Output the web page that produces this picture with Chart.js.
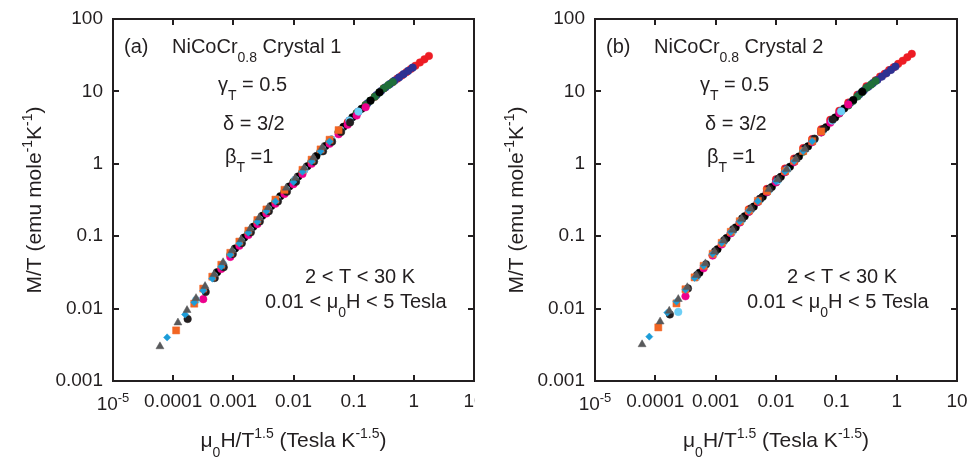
<!DOCTYPE html>
<html>
<head>
<meta charset="utf-8">
<script src="https://cdn.jsdelivr.net/npm/chart.js@4.4.1/dist/chart.umd.min.js"></script>
<style>
html, body { margin: 0; padding: 0; background: #fff; }
#wrap { position: relative; width: 970px; height: 459px; overflow: hidden; }
#pa { position: absolute; left: 0; top: 0; width: 485px; height: 459px; }
#pb { position: absolute; left: 475px; top: 0; width: 495px; height: 459px; background: #fff; }
</style>
</head>
<body>
<div id="wrap">
  <div id="pa"><canvas id="ca"></canvas></div>
  <div id="pb"><canvas id="cb"></canvas></div>
</div>
<script>
// mu0H/T^1.5 (x) and M/T for crystal 1 (a..) and crystal 2 (b..), one set per isotherm
const x2 = [0.00355, 0.00708, 0.0100, 0.0141, 0.0200, 0.0282, 0.0398, 0.0562, 0.0794, 0.112, 0.158, 0.224, 0.316, 0.447, 0.531, 0.631, 0.750, 0.891, 1.06, 1.26, 1.50, 1.78];
const a2 = [0.221, 0.412, 0.562, 0.778, 1.08, 1.49, 2.03, 2.75, 3.73, 4.99, 6.49, 8.43, 11.0, 13.5, 15.0, 16.6, 18.4, 20.4, 22.6, 25.1, 27.7, 30.9];
const b2 = [0.235, 0.45, 0.61, 0.86, 1.18, 1.65, 2.2, 3.0, 4.05, 5.4, 7.0, 9.0, 11.8, 14.2, 16.0, 17.5, 19.7, 21.5, 24.0, 26.5, 29.6, 33.0];

const x3 = [0.00191, 0.0038, 0.00537, 0.00759, 0.0107, 0.0151, 0.0214, 0.0302, 0.0427, 0.0603, 0.0851, 0.120, 0.170, 0.240, 0.285, 0.339, 0.403, 0.479, 0.569, 0.676, 0.804, 0.955];
const a3 = [0.120, 0.236, 0.321, 0.439, 0.600, 0.830, 1.15, 1.59, 2.16, 2.92, 3.96, 5.26, 6.84, 8.89, 10.1, 11.4, 12.7, 14.1, 15.6, 17.3, 19.2, 21.3];
const b3 = [0.118, 0.232, 0.326, 0.445, 0.61, 0.845, 1.17, 1.62, 2.2, 2.98, 4.02, 5.35, 6.95, 9.05, 10.3, 11.6, 13.0, 14.4, 16.0, 17.8, 19.8, 22.0];

const x5 = [0.000891, 0.00178, 0.00251, 0.00355, 0.00501, 0.00708, 0.0100, 0.0141, 0.0200, 0.0282, 0.0398, 0.0562, 0.112, 0.158, 0.188, 0.224, 0.266, 0.316, 0.376, 0.447];
const a5 = [0.0556, 0.112, 0.158, 0.221, 0.302, 0.412, 0.562, 0.778, 1.08, 1.49, 2.03, 2.75, 4.99, 6.49, 7.40, 8.43, 9.62, 11.0, 12.2, 13.5];
const b5 = [0.055, 0.110, 0.156, 0.218, 0.298, 0.405, 0.555, 0.770, 1.07, 1.47, 2.01, 2.72, 4.95, 6.40, 7.35, 8.50, 9.70, 11.2, 12.4, 13.9];

const x7 = [0.000537, 0.00107, 0.00151, 0.00214, 0.00302, 0.00427, 0.00603, 0.00851, 0.0120, 0.0170, 0.0240, 0.0339, 0.0676, 0.0955, 0.135, 0.191, 0.269];
const a7 = [0.0318, 0.0676, 0.0955, 0.135, 0.191, 0.261, 0.356, 0.486, 0.668, 0.925, 1.28, 1.76, 3.24, 4.39, 5.74, 7.46, 9.70];
const b7 = [0.0312, 0.066, 0.094, 0.132, 0.188, 0.256, 0.350, 0.478, 0.66, 0.910, 1.26, 1.74, 3.20, 4.35, 5.80, 7.60, 9.90];

const x10 = [0.000316, 0.000631, 0.000891, 0.00126, 0.00178, 0.00251, 0.00355, 0.00501, 0.00708, 0.0100, 0.0141, 0.0200, 0.0398, 0.0562, 0.0794, 0.112, 0.158];
const a10 = [0.0135, 0.0353, 0.0517, 0.0738, 0.104, 0.147, 0.206, 0.281, 0.383, 0.523, 0.724, 1.00, 1.89, 2.56, 3.47, 4.64, 6.04];
const b10 = [0.0148, 0.036, 0.054, 0.077, 0.110, 0.155, 0.218, 0.298, 0.408, 0.555, 0.77, 1.06, 2.00, 2.72, 3.70, 5.00, 6.60];

const x12 = [0.000240, 0.000479, 0.000676, 0.000955, 0.00135, 0.00191, 0.00269, 0.0038, 0.00537, 0.00759, 0.0107, 0.0151, 0.0302, 0.0427, 0.0603, 0.0851, 0.120];
const a12 = [0.0131, 0.0281, 0.0410, 0.0600, 0.0851, 0.120, 0.170, 0.236, 0.321, 0.439, 0.600, 0.830, 1.59, 2.16, 2.92, 3.96, 5.26];
const b12 = [0.0090, 0.027, 0.040, 0.058, 0.083, 0.117, 0.166, 0.232, 0.316, 0.432, 0.59, 0.820, 1.57, 2.14, 2.90, 3.95, 5.30];

const x15 = [0.000174, 0.000347, 0.000490, 0.000692, 0.000977, 0.00138, 0.00195, 0.00275, 0.00389, 0.00550, 0.00776, 0.0110, 0.0219, 0.0309, 0.0437, 0.0617, 0.0871];
const a15 = [0.0072, 0.0170, 0.0265, 0.0373, 0.0566, 0.0801, 0.113, 0.160, 0.221, 0.302, 0.412, 0.565, 1.08, 1.49, 2.02, 2.75, 3.73];
const b15 = [0.0083, 0.019, 0.029, 0.041, 0.062, 0.088, 0.125, 0.176, 0.243, 0.330, 0.452, 0.620, 1.18, 1.64, 2.22, 3.02, 4.10];

const x20 = [0.000112, 0.000224, 0.000316, 0.000447, 0.000631, 0.000891, 0.00126, 0.00178, 0.00251, 0.00355, 0.00501, 0.00708, 0.0141, 0.0200, 0.0282, 0.0398, 0.0562];
const a20 = [0.0050, 0.0117, 0.0189, 0.0276, 0.0403, 0.0589, 0.0842, 0.119, 0.167, 0.234, 0.320, 0.437, 0.825, 1.14, 1.58, 2.15, 2.92];
const b20 = [0.0055, 0.0118, 0.0185, 0.027, 0.039, 0.057, 0.081, 0.115, 0.161, 0.226, 0.308, 0.420, 0.790, 1.10, 1.50, 2.05, 2.80];

const x25 = [0.0000794, 0.000158, 0.000224, 0.000316, 0.000447, 0.000631, 0.000891, 0.00126, 0.00178, 0.00251, 0.00355, 0.00501, 0.0100, 0.0141, 0.0200, 0.0282, 0.0398];
const a25 = [0.0040, 0.0083, 0.0122, 0.0178, 0.0260, 0.0380, 0.0556, 0.0794, 0.112, 0.158, 0.221, 0.302, 0.562, 0.778, 1.08, 1.49, 2.03];
const b25 = [0.0041, 0.0088, 0.0125, 0.0182, 0.0265, 0.039, 0.057, 0.081, 0.114, 0.160, 0.224, 0.305, 0.570, 0.785, 1.09, 1.50, 2.05];

const x30 = [0.0000603, 0.000120, 0.000170, 0.000240, 0.000339, 0.000479, 0.000676, 0.000955, 0.00135, 0.00191, 0.00269, 0.0038, 0.00759, 0.0107, 0.0151, 0.0214, 0.0302];
const a30 = [0.0030, 0.0064, 0.0095, 0.0139, 0.0204, 0.0298, 0.0435, 0.0636, 0.0902, 0.127, 0.180, 0.250, 0.465, 0.636, 0.880, 1.22, 1.69];
const b30 = [0.0032, 0.0066, 0.0093, 0.0135, 0.0197, 0.029, 0.042, 0.061, 0.087, 0.122, 0.173, 0.240, 0.445, 0.610, 0.840, 1.16, 1.60];

// isotherms, first one is drawn on top
const temps = [30, 25, 20, 15, 12, 10, 7, 5, 3, 2];
const xSets = [x30, x25, x20, x15, x12, x10, x7, x5, x3, x2];
const aSets = [a30, a25, a20, a15, a12, a10, a7, a5, a3, a2];
const bSets = [b30, b25, b20, b15, b12, b10, b7, b5, b3, b2];
const colors = ['#58595b', '#1c9cd8', '#f26522', '#231f20', '#6dcff6', '#ec008c', '#000000', '#1f6e3a', '#2e3192', '#ed1c24'];
const shapes = ['triangle', 'rectRot', 'rect', 'circle', 'circle', 'circle', 'circle', 'circle', 'circle', 'circle'];
const sizes = [4.6, 3.6, 5, 3.8, 3.8, 3.8, 3.8, 3.8, 3.8, 3.8];

const xTicks = [1e-5, 1e-4, 1e-3, 1e-2, 1e-1, 1, 10];
const xTickLabels = ['', '0.0001', '0.001', '0.01', '0.1', '1', '10'];
const yTicks = [0.001, 0.01, 0.1, 1, 10, 100];
const yTickLabels = ['0.001', '0.01', '0.1', '1', '10', '100'];

const panels = ['(a)', '(b)'];
const crystals = [' Crystal 1', ' Crystal 2'];

const INK = '#231f20';
const FONT = '"Liberation Sans", Arial, sans-serif';

// draw text pieces: kind 0 normal, 1 subscript, 2 superscript
function drawRuns(ctx, parts, x, y, size, center) {
  const small = Math.round(size * 0.68);
  let w = 0;
  parts.forEach(p => {
    ctx.font = (p[1] ? small : size) + 'px ' + FONT;
    w += ctx.measureText(p[0]).width;
  });
  let cx = center ? x - w / 2 : x;
  parts.forEach(p => {
    ctx.font = (p[1] ? small : size) + 'px ' + FONT;
    const dy = p[1] === 1 ? size * 0.47 : (p[1] === 2 ? -size * 0.42 : 0);
    ctx.fillText(p[0], cx, y + dy);
    cx += ctx.measureText(p[0]).width;
  });
}

function framePlugin(idx) {
  return {
    id: 'frame' + idx,
    afterDraw(chart) {
      const ctx = chart.ctx;
      const a = chart.chartArea;
      const xs = chart.scales.x, ys = chart.scales.y;
      ctx.save();
      ctx.strokeStyle = INK;
      ctx.lineWidth = 2;
      ctx.strokeRect(a.left, a.top, a.right - a.left, a.bottom - a.top);
      ctx.beginPath();
      xTicks.forEach(v => {
        const px = Math.round(xs.getPixelForValue(v));
        ctx.moveTo(px, a.bottom); ctx.lineTo(px, a.bottom - 6);
        ctx.moveTo(px, a.top); ctx.lineTo(px, a.top + 6);
      });
      yTicks.forEach(v => {
        const py = Math.round(ys.getPixelForValue(v));
        ctx.moveTo(a.left, py); ctx.lineTo(a.left + 6, py);
        ctx.moveTo(a.right, py); ctx.lineTo(a.right - 6, py);
      });
      ctx.stroke();

      ctx.fillStyle = INK;
      ctx.textAlign = 'left';
      ctx.textBaseline = 'alphabetic';

      // first x tick label, 10^-5
      drawRuns(ctx, [['10', 0], ['-5', 2]], xs.getPixelForValue(xTicks[0]), a.bottom + 29, 19, true);

      // annotations
      const L = a.left, T = a.top;
      drawRuns(ctx, [[panels[idx], 0]], L + 11, T + 34, 20);
      drawRuns(ctx, [['NiCoCr', 0], ['0.8', 1], [crystals[idx], 0]], L + 59, T + 34, 20);
      drawRuns(ctx, [['\u03b3', 0], ['T', 1], [' = 0.5', 0]], L + 105, T + 72, 20);
      drawRuns(ctx, [['\u03b4 = 3/2', 0]], L + 110, T + 111, 20);
      drawRuns(ctx, [['\u03b2', 0], ['T', 1], [' =1', 0]], L + 112, T + 144, 20);
      drawRuns(ctx, [['2 < T < 30 K', 0]], L + 192, T + 264, 20);
      drawRuns(ctx, [['0.01 < \u03bc', 0], ['0', 1], ['H < 5 Tesla', 0]], L + 152, T + 289, 20);

      // axis titles
      drawRuns(ctx, [['\u03bc', 0], ['0', 1], ['H/T', 0], ['1.5', 2], [' (Tesla K', 0], ['-1.5', 2], [')', 0]],
        (a.left + a.right) / 2, a.bottom + 66, 21, true);
      ctx.translate(a.left - 72, (a.top + a.bottom) / 2);
      ctx.rotate(-Math.PI / 2);
      drawRuns(ctx, [['M/T (emu mole', 0], ['-1', 2], ['K', 0], ['-1', 2], [')', 0]], 0, 0, 21, true);
      ctx.restore();
    }
  };
}

function makeChart(canvasId, ySets, idx, leftW, rightPad) {
  const datasets = temps.map((t, i) => ({
    label: t + ' K',
    data: xSets[i].map((v, j) => ({ x: v, y: ySets[i][j] })),
    pointStyle: shapes[i],
    pointRadius: sizes[i],
    backgroundColor: colors[i],
    borderColor: colors[i],
    borderWidth: 0.5,
    showLine: false
  }));
  return new Chart(document.getElementById(canvasId), {
    type: 'scatter',
    data: { datasets },
    options: {
      animation: false,
      responsive: true,
      maintainAspectRatio: false,
      layout: { padding: { top: 19, right: rightPad, left: 0, bottom: 0 } },
      scales: {
        x: {
          type: 'logarithmic',
          min: 1e-5,
          max: 10,
          grid: { display: false, drawTicks: false },
          border: { display: false },
          afterBuildTicks: s => { s.ticks = xTicks.map(v => ({ value: v })); },
          afterFit: s => { s.height = 78; s.paddingLeft = 0; s.paddingRight = 0; },
          ticks: {
            autoSkip: false,
            maxRotation: 0,
            padding: 9,
            color: INK,
            font: { size: 19, family: FONT },
            callback: (v, i) => xTickLabels[i]
          }
        },
        y: {
          type: 'logarithmic',
          min: 0.001,
          max: 100,
          grid: { display: false, drawTicks: false },
          border: { display: false },
          afterBuildTicks: s => { s.ticks = yTicks.map(v => ({ value: v })); },
          afterFit: s => { s.width = leftW; s.paddingTop = 0; s.paddingBottom = 0; },
          ticks: {
            autoSkip: false,
            padding: 10,
            color: INK,
            font: { size: 19, family: FONT },
            callback: (v, i) => yTickLabels[i]
          }
        }
      },
      plugins: {
        legend: { display: false },
        tooltip: { enabled: false }
      }
    },
    plugins: [framePlugin(idx)]
  });
}

makeChart('ca', aSets, 0, 113, 11);
makeChart('cb', bSets, 1, 120, 13);
</script>
</body>
</html>
